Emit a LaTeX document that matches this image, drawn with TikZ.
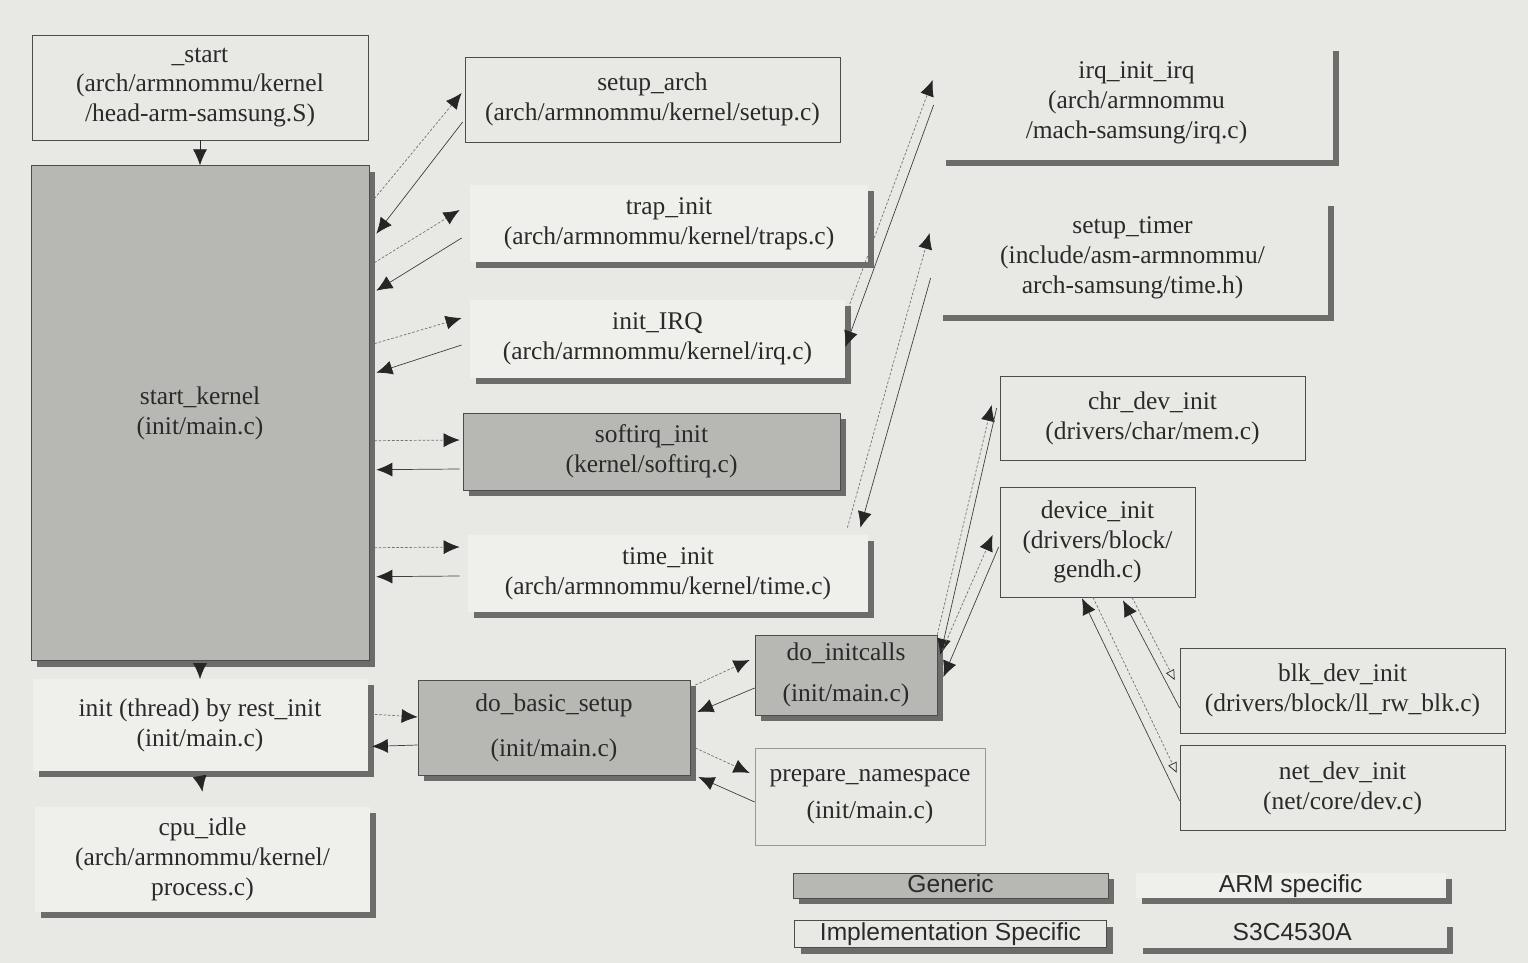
\documentclass[tikz,border=0pt]{standalone}
\usepackage{fontspec}
\setmainfont{Liberation Serif}
\setsansfont{Liberation Sans}
\usepackage{tikz}
\usetikzlibrary{arrows.meta}
\usetikzlibrary{positioning}
\usetikzlibrary{shadows}
\definecolor{bgcol}{RGB}{232,232,228}
\definecolor{armcol}{RGB}{239,239,236}
\definecolor{gencol}{RGB}{183,183,180}
\definecolor{shadecol}{RGB}{108,108,106}
\definecolor{inkcol}{RGB}{42,42,42}
\tikzset{shade/.style={drop shadow={shadow xshift=0.12cm, shadow yshift=-0.12cm, fill=shadecol, opacity=1}},
	box/.style={align=center, inner sep=0pt, text=inkcol}
}
\tikzstyle{generic_node} = [box, draw=black!70, fill=gencol, shade]
\tikzstyle{arm_node} = [box, fill=armcol, shade]
\tikzstyle{impl_node} = [box, draw=black!70, fill=bgcol]
\tikzstyle{s3c_node} = [box, fill=bgcol, shade]
\tikzstyle{legend_node} = [font=\sffamily\fontsize{14}{16}\selectfont, text height=10pt, text depth=2.5pt]
\tikzstyle{call_line} = [->, thin, dash pattern=on 1.5pt off 1pt, black!55]
\tikzstyle{ret_line} = [->, thin, black!75]

\begin{document}
\begin{tikzpicture}[>={Latex[length=3.2mm,width=2.8mm,color=black!85]}, font=\fontsize{14.5}{17}\selectfont]
				\useasboundingbox (0,0) rectangle (30.56,-19.26);
				\fill[bgcol] (0,0) rectangle (30.56,-19.26);
				% left column
				\node[impl_node, minimum width=6.72cm, minimum height=2.1cm] (start) at (4.0,-1.75) {\_start\\(arch/armnommu/kernel\\/head-arm-samsung.S)};
				\node[generic_node, minimum width=6.76cm, minimum height=9.9cm, below=0.5cm of start] (sk) {start\_kernel\\(init/main.c)};
				\node[arm_node, minimum width=6.7cm, minimum height=1.84cm, below=0.36cm of sk] (rest) {init (thread) by rest\_init\\(init/main.c)};
				\node[arm_node, minimum width=6.7cm, minimum height=2.1cm, below=0.7cm of rest, xshift=0.05cm] (idle) {cpu\_idle\\(arch/armnommu/kernel/\\process.c)};
				% called from start_kernel
				\node[impl_node, minimum width=7.5cm, minimum height=1.7cm] (sa) at (13.05,-1.99) {setup\_arch\\(arch/armnommu/kernel/setup.c)};
				\node[arm_node, minimum width=7.96cm, minimum height=1.54cm] (ti) at (13.38,-4.47) {trap\_init\\(arch/armnommu/kernel/traps.c)};
				\node[arm_node, minimum width=7.5cm, minimum height=1.56cm] (irq) at (13.15,-6.78) {init\_IRQ\\(arch/armnommu/kernel/irq.c)};
				\node[generic_node, minimum width=7.54cm, minimum height=1.54cm] (sf) at (13.03,-9.03) {softirq\_init\\(kernel/softirq.c)};
				\node[arm_node, minimum width=8.0cm, minimum height=1.54cm] (tm) at (13.36,-11.47) {time\_init\\(arch/armnommu/kernel/time.c)};
				\node[s3c_node, minimum width=7.86cm, minimum height=2.3cm] (iii) at (22.73,-2.05) {irq\_init\_irq\\(arch/armnommu\\/mach-samsung/irq.c)};
				\node[s3c_node, minimum width=7.82cm, minimum height=2.3cm] (st) at (22.65,-5.15) {setup\_timer\\(include/asm-armnommu/\\arch-samsung/time.h)};
				% init thread
				\node[generic_node, minimum width=5.44cm, minimum height=1.9cm] (dbs) at (11.08,-14.55) {do\_basic\_setup\\[0.3cm](init/main.c)};
				\node[generic_node, minimum width=3.64cm, minimum height=1.6cm] (di) at (16.92,-13.5) {do\_initcalls\\[0.22cm](init/main.c)};
				\node[impl_node, draw=black!40, minimum width=4.6cm, minimum height=1.94cm] (pn) at (17.4,-15.93) {prepare\_namespace\\[0.14cm](init/main.c)};
				\node[impl_node, minimum width=6.1cm, minimum height=1.68cm] (chr) at (23.05,-8.36) {chr\_dev\_init\\(drivers/char/mem.c)};
				\node[impl_node, minimum width=3.9cm, minimum height=2.2cm] (dev) at (21.95,-10.84) {device\_init\\(drivers/block/\\gendh.c)};
				\node[impl_node, minimum width=6.5cm, minimum height=1.7cm] (blk) at (26.85,-13.81) {blk\_dev\_init\\(drivers/block/ll\_rw\_blk.c)};
				\node[impl_node, minimum width=6.5cm, minimum height=1.7cm, below=0.24cm of blk] (net) {net\_dev\_init\\(net/core/dev.c)};
				% legend
				\node[generic_node, legend_node, minimum width=6.3cm, minimum height=0.5cm] (lgen) at (19.01,-17.71) {Generic};
				\node[arm_node, legend_node, minimum width=6.2cm, minimum height=0.5cm, right=0.54cm of lgen] (larm) {ARM specific};
				\node[impl_node, shade, legend_node, minimum width=6.24cm, minimum height=0.54cm, below=0.44cm of lgen] (limpl) {Implementation Specific};
				\node[s3c_node, legend_node, minimum width=6.2cm, minimum height=0.54cm, right=0.6cm of limpl] (ls3c) {S3C4530A};

				% draw lines
				\draw[->, black!85] (start.south) -- (sk.north);
				\draw[->, black!85] ([yshift=-0.12cm]sk.south) -- (rest.north);
				\draw[->, black!85] ([yshift=-0.12cm]rest.south) -- ([yshift=0.3cm]idle.north);
				\draw[call_line] ([xshift=0.1cm, yshift=4.29cm]sk.east) -- ([xshift=-0.06cm, yshift=0.13cm]sa.west);
				\draw[ret_line] ([xshift=-0.04cm, yshift=-0.45cm]sa.west) -- ([xshift=0.14cm, yshift=3.59cm]sk.east);
				\draw[call_line] ([xshift=0.1cm, yshift=3.01cm]sk.east) -- ([xshift=-0.2cm, yshift=0.27cm]ti.west);
				\draw[ret_line] ([xshift=-0.16cm, yshift=-0.29cm]ti.west) -- ([xshift=0.14cm, yshift=2.45cm]sk.east);
				\draw[call_line] ([xshift=0.1cm, yshift=1.39cm]sk.east) -- ([xshift=-0.16cm, yshift=0.42cm]irq.west);
				\draw[ret_line] ([xshift=-0.16cm, yshift=-0.12cm]irq.west) -- ([xshift=0.14cm, yshift=0.81cm]sk.east);
				\draw[call_line] ([xshift=0.1cm, yshift=-0.55cm]sk.east) -- ([xshift=-0.06cm, yshift=0.23cm]sf.west);
				\draw[ret_line] ([xshift=-0.06cm, yshift=-0.35cm]sf.west) -- ([xshift=0.14cm, yshift=-1.13cm]sk.east);
				\draw[call_line] ([xshift=0.1cm, yshift=-2.69cm]sk.east) -- ([xshift=-0.16cm, yshift=0.53cm]tm.west);
				\draw[ret_line] ([xshift=-0.16cm, yshift=-0.05cm]tm.west) -- ([xshift=0.14cm, yshift=-3.27cm]sk.east);
				\draw[call_line] ([xshift=0.06cm, yshift=0.62cm]irq.east) -- ([xshift=-0.14cm, yshift=0.45cm]iii.west);
				\draw[ret_line] ([xshift=-0.12cm, yshift=-0.05cm]iii.west) -- ([xshift=0cm, yshift=-0.16cm]irq.east);
				\draw[call_line] ([xshift=-0.42cm, yshift=0.14cm]tm.north east) -- ([xshift=-0.14cm, yshift=0.49cm]st.west);
				\draw[ret_line] ([xshift=-0.12cm, yshift=-0.41cm]st.west) -- ([xshift=-0.16cm, yshift=0.14cm]tm.north east);
				\draw[call_line] ([xshift=0.14cm, yshift=0.22cm]rest.east) -- ([yshift=0.21cm]dbs.west);
				\draw[ret_line] ([yshift=-0.35cm]dbs.west) -- ([xshift=0.08cm, yshift=-0.42cm]rest.east);
				\draw[call_line] ([xshift=0.1cm, yshift=0.85cm]dbs.east) -- ([xshift=-0.1cm, yshift=0.3cm]di.west);
				\draw[ret_line] ([yshift=-0.26cm]di.west) -- ([xshift=0.14cm, yshift=0.31cm]dbs.east);
				\draw[call_line] ([xshift=0.1cm, yshift=-0.41cm]dbs.east) -- ([xshift=-0.1cm, yshift=0.47cm]pn.west);
				\draw[ret_line] ([yshift=-0.11cm]pn.west) -- ([xshift=0.16cm, yshift=-0.99cm]dbs.east);
				\draw[call_line] (di.north east) -- ([xshift=-0.16cm, yshift=0.26cm]chr.west);
				\draw[ret_line] ([xshift=-0.06cm, yshift=0.2cm]chr.west) -- ([xshift=0.06cm, yshift=0.4cm]di.east);
				\draw[call_line] ([xshift=0.1cm, yshift=0.5cm]di.east) -- ([xshift=-0.14cm, yshift=0.14cm]dev.west);
				\draw[ret_line] ([xshift=-0.02cm, yshift=-0.1cm]dev.west) -- ([xshift=0.12cm, yshift=-0.04cm]di.east);
				\draw[call_line, -{Triangle[open, length=2mm, width=1.8mm, color=black!85]}] ([xshift=0.69cm]dev.south) -- ([xshift=-0.1cm, yshift=0.21cm]blk.west);
				\draw[ret_line] ([yshift=-0.35cm]blk.west) -- ([xshift=0.51cm, yshift=-0.06cm]dev.south);
				\draw[call_line, -{Triangle[open, length=2mm, width=1.8mm, color=black!85]}] ([xshift=-0.09cm]dev.south) -- ([xshift=-0.06cm, yshift=0.31cm]net.west);
				\draw[ret_line] ([yshift=-0.25cm]net.west) -- ([xshift=-0.31cm, yshift=-0.02cm]dev.south);
\end{tikzpicture}
\end{document}
